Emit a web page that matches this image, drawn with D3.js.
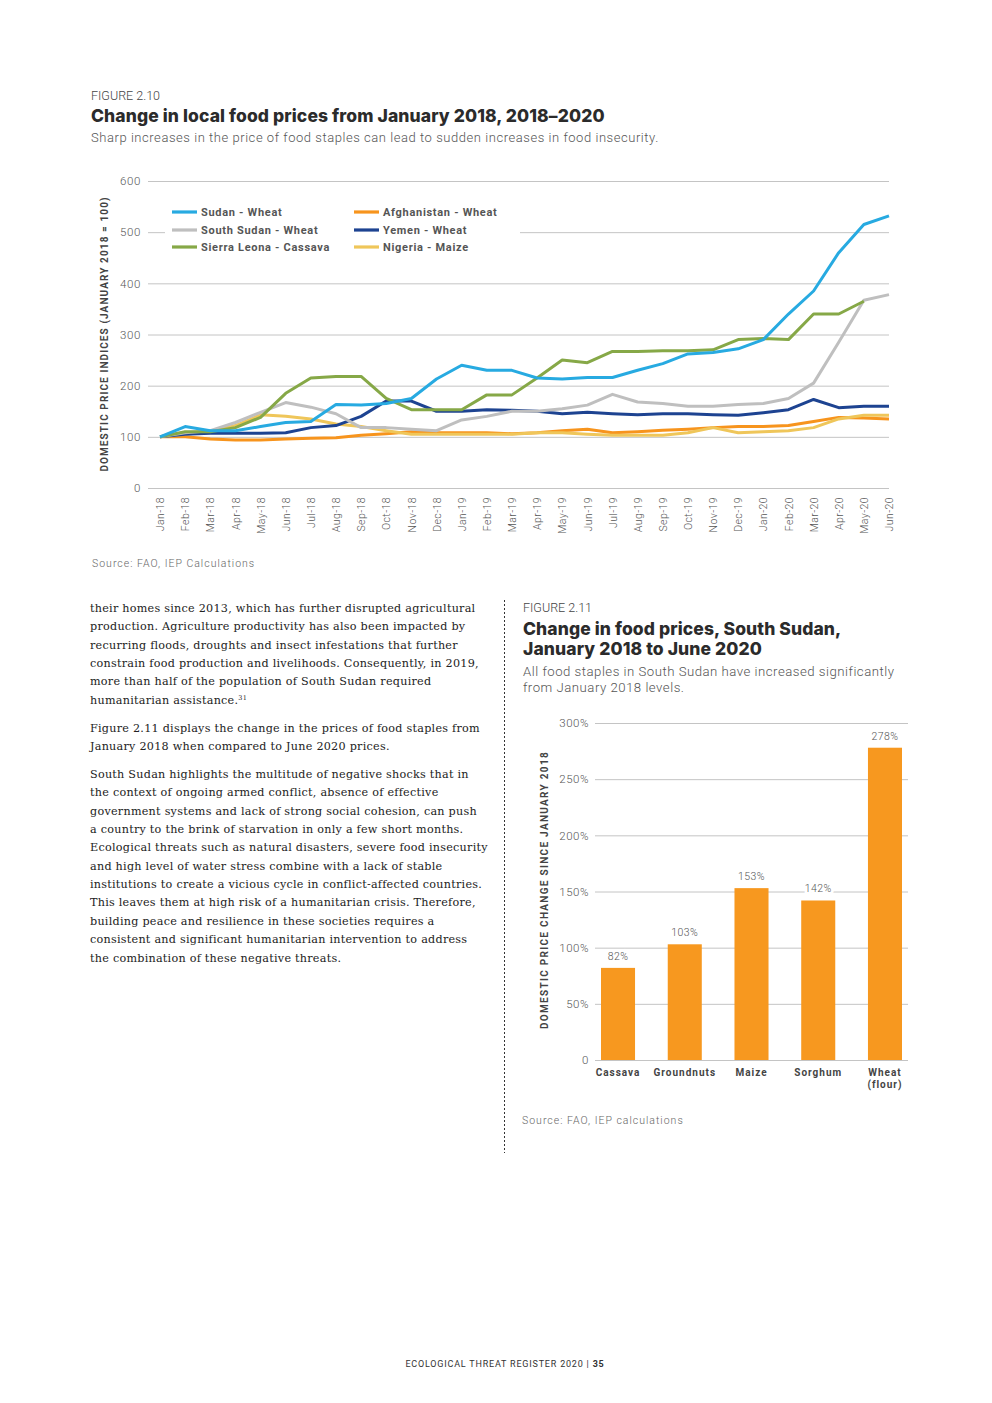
<!DOCTYPE html>
<html>
<head>
<meta charset="utf-8">
<script src="https://cdn.jsdelivr.net/npm/d3@7"></script>
<style>
  body { margin: 0; background: #fff; }
  svg { display: block; }
  .sans { font-family: Roboto, "Open Sans", sans-serif; }
  .head { font-family: Inter, Roboto, sans-serif; font-weight: 800; fill: #2b2b2b; }
  .body { font-family: "DejaVu Serif", serif; fill: #222; }
</style>
</head>
<body>
<script>
// months for figure 2.10
var months = ["Jan-18","Feb-18","Mar-18","Apr-18","May-18","Jun-18","Jul-18","Aug-18","Sep-18","Oct-18","Nov-18","Dec-18",
  "Jan-19","Feb-19","Mar-19","Apr-19","May-19","Jun-19","Jul-19","Aug-19","Sep-19","Oct-19","Nov-19","Dec-19",
  "Jan-20","Feb-20","Mar-20","Apr-20","May-20","Jun-20"];

var sudanWheat = [100,120,112,112,120,128,130,163,162,165,175,213,240,230,230,215,213,216,216,230,243,262,265,272,290,340,385,460,515,532];
var afghanWheat = [100,100,96,94,94,96,97,98,103,106,110,108,108,108,106,108,112,115,108,110,113,115,118,120,120,122,130,138,137,135];
var southSudanWheat = [100,108,112,128,148,167,158,145,118,118,115,112,133,140,150,150,155,162,183,168,165,160,160,163,165,175,205,285,367,378];
var yemenWheat = [100,105,107,107,107,108,118,122,140,170,170,150,150,153,152,150,145,148,145,143,145,145,143,142,147,153,173,157,160,160];
var sierraCassava = [100,110,110,118,138,185,215,218,218,175,153,153,153,182,182,215,250,245,267,267,268,268,270,290,292,290,340,340,365,null];
var nigeriaMaize = [100,105,110,122,143,140,135,125,120,112,105,105,105,105,105,108,108,105,103,103,103,108,118,108,110,112,118,135,142,142];

var seriesNames = ["Sudan - Wheat","Afghanistan - Wheat","South Sudan - Wheat","Yemen - Wheat","Sierra Leona - Cassava","Nigeria - Maize"];
var seriesColors = ["#27aae1","#f7941d","#bfbfbf","#1d4391","#86a847","#efc65a"];
var yTicks = [0,100,200,300,400,500,600];

// figure 2.11
var staples = ["Cassava","Groundnuts","Maize","Sorghum","Wheat (flour)"];
var priceChange = [82,103,153,142,278];
var barTicks = [0,50,100,150,200,250,300];

var svg = d3.select("body").append("svg")
    .attr("width", 992)
    .attr("height", 1403);

// ---------- figure 2.10 header ----------
svg.append("text").attr("class", "sans").attr("x", 91).attr("y", 100)
    .style("font-size", "12.5px").style("font-weight", 300).attr("fill", "#444").text("FIGURE 2.10");
svg.append("text").attr("class", "head").attr("x", 91).attr("y", 122)
    .style("font-size", "17.5px").style("letter-spacing", "0.1px")
    .text("Change in local food prices from January 2018, 2018\u20132020");
svg.append("text").attr("class", "sans").attr("x", 91).attr("y", 142)
    .style("font-size", "13px").style("font-weight", 300).style("letter-spacing", "0.55px").attr("fill", "#555")
    .text("Sharp increases in the price of food staples can lead to sudden increases in food insecurity.");

var x = d3.scalePoint().domain(months).range([160, 889]);
var y = d3.scaleLinear().domain([0, 600]).range([488, 181]);

var lineChart = svg.append("g");

// gridlines + y labels
var yAxis = lineChart.append("g")
    .attr("transform", "translate(148,0)")
    .call(d3.axisLeft(y).tickValues(yTicks).tickSize(-741).tickPadding(7));
yAxis.select(".domain").remove();
yAxis.selectAll("line").attr("stroke", "#c4c4c4");
yAxis.selectAll("text").attr("class", "sans").style("font-size", "11.5px").style("font-weight", 300)
    .style("letter-spacing", "0.6px").attr("fill", "#555");

// x labels
var xAxis = lineChart.append("g")
    .attr("transform", "translate(0,488)")
    .call(d3.axisBottom(x).tickSize(0));
xAxis.select(".domain").remove();
xAxis.selectAll("text")
    .attr("class", "sans")
    .style("font-size", "10.5px").style("font-weight", 300).style("letter-spacing", "0.4px").attr("fill", "#555")
    .attr("text-anchor", "end")
    .attr("transform", "translate(0,9) rotate(-90)")
    .attr("x", 0).attr("y", 0).attr("dy", "0.35em");

// y title
svg.append("text").attr("class", "sans")
    .attr("transform", "translate(108,334) rotate(-90)")
    .attr("text-anchor", "middle")
    .style("font-size", "10px").style("font-weight", 700).style("letter-spacing", "1.1px")
    .attr("fill", "#444")
    .text("DOMESTIC PRICE INDICES (JANUARY 2018 = 100)");

// legend background covers the gridline
svg.append("rect").attr("x", 165).attr("y", 203).attr("width", 355).attr("height", 52).attr("fill", "#fff");

var allSeries = [sudanWheat, afghanWheat, southSudanWheat, yemenWheat, sierraCassava, nigeriaMaize];
var drawOrder = [1, 5, 3, 2, 4, 0];

var line = d3.line()
    .defined(function (d) { return d != null; })
    .x(function (d, i) { return x(months[i]); })
    .y(function (d) { return y(d); });

drawOrder.forEach(function (k) {
    lineChart.append("path")
        .datum(allSeries[k])
        .attr("fill", "none")
        .attr("stroke", seriesColors[k])
        .attr("stroke-width", 3)
        .attr("stroke-linejoin", "round")
        .attr("d", line);
});

// legend
var legendPos = [[172,212],[354,212],[172,230],[354,230],[172,247],[354,247]];
seriesNames.forEach(function (name, i) {
    var g = svg.append("g").attr("transform", "translate(" + legendPos[i][0] + "," + legendPos[i][1] + ")");
    g.append("line").attr("x1", 0).attr("x2", 25).attr("y1", 0).attr("y2", 0)
        .attr("stroke", seriesColors[i]).attr("stroke-width", 3.2);
    g.append("text").attr("class", "sans").attr("x", 29).attr("y", 0).attr("dy", "0.35em")
        .style("font-size", "11px").style("font-weight", 700).style("letter-spacing", "0.7px")
        .attr("fill", "#555").text(name);
});

svg.append("text").attr("class", "sans").attr("x", 92).attr("y", 567)
    .style("font-size", "10.5px").style("font-weight", 300).style("letter-spacing", "1px")
    .attr("fill", "#666").text("Source: FAO, IEP Calculations");

// ---------- body text ----------
var para1 = ["their homes since 2013, which has further disrupted agricultural",
  "production. Agriculture productivity has also been impacted by",
  "recurring floods, droughts and insect infestations that further",
  "constrain food production and livelihoods. Consequently, in 2019,",
  "more than half of the population of South Sudan required",
  "humanitarian assistance."];
var para2 = ["Figure 2.11 displays the change in the prices of food staples from",
  "January 2018 when compared to June 2020 prices."];
var para3 = ["South Sudan highlights the multitude of negative shocks that in",
  "the context of ongoing armed conflict, absence of effective",
  "government systems and lack of strong social cohesion, can push",
  "a country to the brink of starvation in only a few short months.",
  "Ecological threats such as natural disasters, severe food insecurity",
  "and high level of water stress combine with a lack of stable",
  "institutions to create a vicious cycle in conflict-affected countries.",
  "This leaves them at high risk of a humanitarian crisis. Therefore,",
  "building peace and resilience in these societies requires a",
  "consistent and significant humanitarian intervention to address",
  "the combination of these negative threats."];

function writePara(lines, top) {
    var t = svg.append("text").attr("class", "body").style("font-size", "11.2px").style("letter-spacing", "0.25px");
    lines.forEach(function (l, i) {
        t.append("tspan").attr("x", 90).attr("y", top + i * 18.35).text(l);
    });
    return t;
}
var p1 = writePara(para1, 612);
p1.select("tspan:last-child").append("tspan").attr("dy", -4).style("font-size", "6.5px").text("31");
writePara(para2, 732);
writePara(para3, 778);

// divider
svg.append("line").attr("x1", 504.5).attr("x2", 504.5).attr("y1", 600).attr("y2", 1153)
    .attr("stroke", "#333").attr("stroke-width", 1).attr("stroke-dasharray", "2,2");

// ---------- figure 2.11 ----------
svg.append("text").attr("class", "sans").attr("x", 523).attr("y", 612)
    .style("font-size", "12.5px").style("font-weight", 300).attr("fill", "#444").text("FIGURE 2.11");
svg.append("text").attr("class", "head").attr("x", 523).attr("y", 635)
    .style("font-size", "17.5px").style("letter-spacing", "0.1px").text("Change in food prices, South Sudan,");
svg.append("text").attr("class", "head").attr("x", 523).attr("y", 655)
    .style("font-size", "17.5px").style("letter-spacing", "0.1px").text("January 2018 to June 2020");
svg.append("text").attr("class", "sans").attr("x", 523).attr("y", 676)
    .style("font-size", "13.2px").style("font-weight", 300).style("letter-spacing", "0.5px").attr("fill", "#555")
    .text("All food staples in South Sudan have increased significantly");
svg.append("text").attr("class", "sans").attr("x", 523).attr("y", 692)
    .style("font-size", "13.2px").style("font-weight", 300).style("letter-spacing", "0.5px").attr("fill", "#555")
    .text("from January 2018 levels.");

var bx = d3.scaleBand().domain(staples).range([595, 908]).paddingInner(0.49).paddingOuter(0.09);
var by = d3.scaleLinear().domain([0, 300]).range([1060, 723]);

var barAxis = svg.append("g").attr("transform", "translate(595,0)")
    .call(d3.axisLeft(by).tickValues(barTicks).tickSize(-313).tickPadding(6)
        .tickFormat(function (d) { return d === 0 ? "0" : d + "%"; }));
barAxis.select(".domain").remove();
barAxis.selectAll("line").attr("stroke", "#c4c4c4");
barAxis.selectAll("text").attr("class", "sans").style("font-size", "11.5px").style("font-weight", 300)
    .style("letter-spacing", "0.5px").attr("fill", "#555");

svg.selectAll("rect.bar")
    .data(priceChange)
    .enter().append("rect")
    .attr("class", "bar")
    .attr("x", function (d, i) { return bx(staples[i]); })
    .attr("width", bx.bandwidth())
    .attr("y", function (d) { return by(d); })
    .attr("height", function (d) { return by(0) - by(d); })
    .attr("fill", "#f7981f");

// value labels with white backing
svg.selectAll("text.val")
    .data(priceChange)
    .enter().append("text")
    .attr("class", "sans val")
    .attr("x", function (d, i) { return bx(staples[i]) + bx.bandwidth() / 2; })
    .attr("y", function (d) { return by(d) - 8; })
    .attr("text-anchor", "middle")
    .style("font-size", "10.5px").style("font-weight", 300).style("letter-spacing", "0.4px")
    .attr("fill", "#555")
    .attr("stroke", "#fff").attr("stroke-width", 6).attr("paint-order", "stroke")
    .text(function (d) { return d + "%"; });

// category labels
staples.forEach(function (s) {
    var t = svg.append("text").attr("class", "sans")
        .attr("text-anchor", "middle")
        .style("font-size", "10px").style("font-weight", 700).style("letter-spacing", "1px")
        .attr("fill", "#444");
    var parts = s === "Wheat (flour)" ? ["Wheat", "(flour)"] : [s];
    parts.forEach(function (p, j) {
        t.append("tspan").attr("x", bx(s) + bx.bandwidth() / 2).attr("y", 1076 + j * 12).text(p);
    });
});

svg.append("text").attr("class", "sans")
    .attr("transform", "translate(548,890) rotate(-90)")
    .attr("text-anchor", "middle")
    .style("font-size", "10px").style("font-weight", 700).style("letter-spacing", "1.3px")
    .attr("fill", "#444")
    .text("DOMESTIC PRICE CHANGE SINCE JANUARY 2018");

svg.append("text").attr("class", "sans").attr("x", 522).attr("y", 1124)
    .style("font-size", "10.5px").style("font-weight", 300).style("letter-spacing", "1px")
    .attr("fill", "#666").text("Source: FAO, IEP calculations");

// footer
var foot = svg.append("text").attr("class", "sans").attr("x", 505).attr("y", 1367)
    .attr("text-anchor", "middle").style("font-size", "9px").style("letter-spacing", "0.8px").attr("fill", "#333");
foot.append("tspan").text("ECOLOGICAL THREAT REGISTER 2020  |  ");
foot.append("tspan").style("font-weight", 700).text("35");
</script>
</body>
</html>
